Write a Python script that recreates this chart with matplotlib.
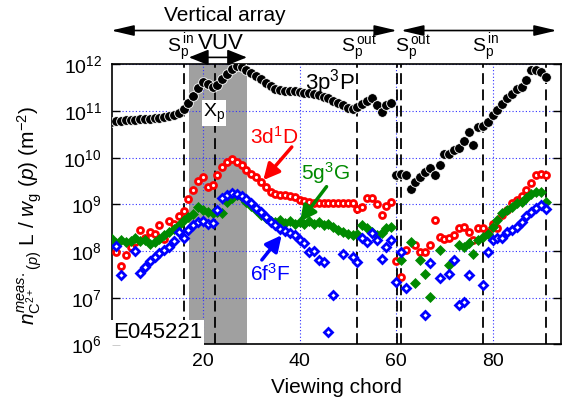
import numpy as np
import matplotlib
matplotlib.use("Agg")
import matplotlib.pyplot as plt
from matplotlib.ticker import NullLocator

plt.rcParams['font.family'] = ['Liberation Sans', 'DejaVu Sans']
plt.rcParams['mathtext.fontset'] = 'custom'
plt.rcParams['mathtext.rm'] = 'Liberation Sans'
plt.rcParams['mathtext.it'] = 'Liberation Sans:italic'
plt.rcParams['mathtext.bf'] = 'Liberation Sans:bold'

nan = np.nan

# viewing chords of the two arrays
chord_left = list(range(1, 60))
chord_right = list(range(60, 92))

p3P_left = [10.77, 10.78, 10.79, 10.80, 10.80, 10.81, 10.82, 10.83, 10.84, 10.85,
            10.86, 10.87, 10.89, 10.91, 10.96, 11.05, 11.18, 11.33, 11.50, 11.62,
            11.58, 11.52, 11.55, 11.68, 11.80, 11.90, 11.96, 11.94, 11.88, 11.81,
            11.75, 11.68, 11.60, 11.53, 11.48, 11.45, 11.44, 11.43, 11.42, 11.41,
            11.39, 11.38, 11.36, 11.34, 11.31, 11.27, 11.22, 11.18, 11.12, 11.07,
            11.04, 11.08, 11.15, 11.22, 11.27, 11.13, 10.98, 11.12, 11.18]
p3P_right = [9.64, 9.66, 9.64, 9.32, 9.48, 9.59, 9.69, 9.78, 9.64, 9.84,
             10.07, 10.07, 10.16, 10.20, 10.36, 10.55, 10.27, 10.65, 10.67, 10.77,
             10.91, 11.03, 11.16, 11.27, 11.37, 11.48, 11.52, 11.67, 11.87, 11.87,
             11.84, 11.72]

d1D_left = [nan, 7.98, 7.68, 7.91, 8.09, 8.19, 8.46, 8.29, 8.41, 8.36,
            8.56, 8.25, 8.64, 8.59, 8.75, 8.86, 9.11, 9.31, 9.50, 9.59,
            9.38, 9.41, 9.62, 9.80, 9.91, 9.98, 9.91, 9.84, 9.74, 9.66,
            9.59, 9.48, 9.38, 9.27, 9.22, 9.20, 9.20, 9.18, 9.15, 9.10,
            9.07, 9.05, 9.03, 9.02, 9.02, 9.03, 9.04, 9.02, 9.02, 9.03,
            9.02, 8.91, 8.95, 9.13, 9.13, 9.01, 8.77, 8.96, 9.06]
d1D_right = [7.79, 7.45, 8.02, nan, 8.13, 7.99, 7.99, 8.14, 8.66, 8.31,
             8.25, 8.27, 8.34, 8.50, 8.52, 8.41, 8.23, 8.50, 8.50, 8.41,
             8.57, 8.50, 8.77, 8.88, 9.02, 9.09, 9.18, 9.31, 9.45, 9.64,
             9.66, 9.62]

g3G_left = [8.29, 8.18, 8.23, 8.20, 8.22, 8.27, 8.22, 8.23, 8.16, 8.20,
            8.25, 8.34, 8.41, 8.48, 8.56, 8.66, 8.73, 8.80, 8.95, 8.89,
            8.84, 8.81, 8.84, 8.81, 9.05, 9.13, 9.20, 9.15, 9.06, 8.97,
            8.88, 8.78, 8.70, 8.64, 8.62, 8.66, 8.60, 8.64, 8.58, 8.62,
            8.57, 8.64, 8.58, 8.63, 8.55, 8.59, 8.52, 8.45, 8.41, 8.36,
            8.34, 8.36, 8.56, 8.49, 8.41, 8.34, 8.38, 8.49, 8.52]
g3G_right = [nan, 7.80, nan, 8.20, 7.31, 7.81, 7.51, 7.02, nan, 8.02,
             nan, 7.70, 7.81, 8.13, 8.09, 8.18, 7.93, 8.23, 8.30, 8.37,
             8.52, 8.66, 8.81, 8.88, 8.95, 9.02, 9.06, 9.13, 9.23, 9.27,
             9.27, 9.06]

f3F_left = [nan, 8.10, 7.48, nan, nan, 8.00, 7.53, 7.65, 7.78, 7.88,
            7.96, 8.03, 8.09, 8.21, 8.41, 8.28, 8.46, 8.56, 8.62, 8.65,
            8.59, 8.60, 8.88, 9.13, 9.20, 9.25, 9.22, 9.17, 9.11, 9.02,
            8.93, 8.84, 8.73, 8.63, 8.56, 8.48, 8.43, 8.38, 8.34, 8.23,
            8.17, 7.98, 8.00, 7.80, 7.77, 6.27, 7.06, nan, 7.93, nan,
            7.88, 7.77, 8.27, 8.20, 8.38, 8.23, 7.84, 8.09, 8.23]
f3F_right = [7.34, 7.98, 7.20, nan, nan, nan, 6.63, 7.74, nan, 7.42,
             nan, 7.50, 7.81, 6.85, 6.90, 7.49, nan, nan, 7.27, 7.98,
             8.23, 8.27, 8.27, 8.41, 8.45, 8.52, 8.63, 8.75, 8.84, 8.93,
             8.98, 8.91]

# separatrix / X-point chords and VUV field of view
sep_chords = [16.1, 22.6, 52.0, 60.1, 61.0, 77.9, 91.0]
vuv_span = (17.2, 29.1)
sep_labels = [(12.5, 'in'), (48.5, 'out'), (59.8, 'out'), (75.7, 'in')]


def series(left, right):
    x = chord_left + chord_right
    y = 10.0 ** np.array(left + right)
    return x, y


def arrow(ax, tail, head, color):
    ax.annotate('', xy=head, xytext=tail, zorder=5,
                arrowprops=dict(arrowstyle='-|>,head_length=0.6,head_width=0.3',
                                color=color, lw=2.5, mutation_scale=16,
                                shrinkA=0, shrinkB=0))


def main():
    fig = plt.figure(figsize=(5.71, 4.07), dpi=100)
    ax = fig.add_axes([0.1956, 0.1538, 0.7864, 0.688])

    ax.axvspan(*vuv_span, color='#a0a0a0', lw=0, zorder=0.5)
    for c in sep_chords:
        ax.axvline(c, color='k', lw=1.3, ls=(0, (6, 3)), zorder=1.5)

    x, y = series(p3P_left, p3P_right)
    ax.plot(x, y, 'o', ms=7.0, mfc='k', mec='white', mew=0.6, ls='none', zorder=3)
    x, y = series(d1D_left, d1D_right)
    ax.plot(x, y, 'o', ms=4.3, mfc='white', mec='red', mew=2.0, ls='none', zorder=3)
    x, y = series(g3G_left, g3G_right)
    ax.plot(x, y, 'D', ms=4.6, mfc='#008a00', mec='#008a00', mew=0.5, ls='none', zorder=3)
    x, y = series(f3F_left, f3F_right)
    ax.plot(x, y, 'D', ms=3.8, mfc='white', mec='#0000ff', mew=2.0, ls='none', zorder=3)

    ax.set_yscale('log')
    ax.set_ylim(1e6, 1e12)
    ax.set_xlim(1.1, 94.1)
    ax.set_yticks([1e6, 1e7, 1e8, 1e9, 1e10, 1e11, 1e12])
    ax.yaxis.set_minor_locator(NullLocator())
    ax.set_xticks([20, 40, 60, 80])
    ax.grid(True, color='#3030ff', ls=(0, (1, 2)), lw=0.8)
    ax.set_axisbelow(True)
    ax.tick_params(axis='y', direction='in', length=6, width=1, right=True,
                   labelsize=14, pad=7)
    ax.tick_params(axis='x', length=0, labelsize=14, pad=6)
    for s in ax.spines.values():
        s.set_linewidth(1.2)

    ax.set_xlabel('Viewing chord', fontsize=15, labelpad=6)
    ax.set_ylabel(r'$n_{\mathrm{C}^{2+}}^{meas.}{}_{(p)}\ \mathrm{L}\ /\ w_{\mathrm{g}}\ (p)\ (\mathrm{m}^{-2})$',
                  fontsize=15)
    ax.yaxis.set_label_coords(-0.15, 0.46)

    # arrays above the frame
    yc = ('data', 'figure fraction')
    arr = dict(arrowstyle='<|-|>,head_length=1.15,head_width=0.27',
               mutation_scale=12, color='k', lw=1.2, shrinkA=0, shrinkB=0)
    ax.annotate('', xy=(1.0, 0.925), xytext=(60.2, 0.925), xycoords=yc,
                textcoords=yc, arrowprops=arr)
    ax.annotate('', xy=(61.0, 0.925), xytext=(93.3, 0.925), xycoords=yc,
                textcoords=yc, arrowprops=arr)
    varr = dict(arrowstyle='<|-|>,head_length=1.0,head_width=0.4',
                mutation_scale=12, color='k', lw=1.2, shrinkA=0, shrinkB=0)
    ax.annotate('', xy=(17.1, 0.859), xytext=(29.1, 0.859), xycoords=yc,
                textcoords=yc, arrowprops=varr)
    ax.annotate('Vertical array', xy=(24.6, 0.962), xycoords=yc, ha='center',
                va='center', fontsize=15)
    ax.annotate('VUV', xy=(23.8, 0.893), xycoords=yc, ha='center',
                va='center', fontsize=16)
    for cs, lab in sep_labels:
        ax.annotate(r'S$_\mathrm{p}^{\,\mathrm{%s}}$' % lab, xy=(cs, 0.872),
                    xycoords=yc, ha='left', va='baseline', fontsize=14)

    ax.text(46.4, 10**11.62, r'3p$^3$P', fontsize=16, ha='center', va='center', zorder=4)
    ax.text(22.3, 10**10.95, r'X$_\mathrm{p}$', fontsize=14, ha='center', va='center',
            zorder=4, bbox=dict(fc='white', ec='none', pad=1))
    ax.text(0.003, 0.004, 'E045221', transform=ax.transAxes, fontsize=16,
            ha='left', va='bottom', zorder=5,
            bbox=dict(fc='white', ec='none', pad=1.5))

    ax.text(34.8, 10**10.44, r'3d$^1$D', color='red', fontsize=15,
            ha='center', va='center', zorder=5)
    arrow(ax, (38.4, 10**10.23), (32.5, 10**9.52), 'red')
    ax.text(45.3, 10**9.67, r'5g$^3$G', color='#008a00', fontsize=15,
            ha='center', va='center', zorder=5)
    arrow(ax, (45.6, 10**9.38), (40.1, 10**8.63), '#008a00')
    ax.text(33.9, 10**7.51, r'6f$^3$F', color='#0000ff', fontsize=15,
            ha='center', va='center', zorder=5)
    arrow(ax, (32.2, 10**7.81), (36.3, 10**8.34), '#0000ff')

    fig.savefig('out.png', dpi=100)


if __name__ == "__main__":
    main()
